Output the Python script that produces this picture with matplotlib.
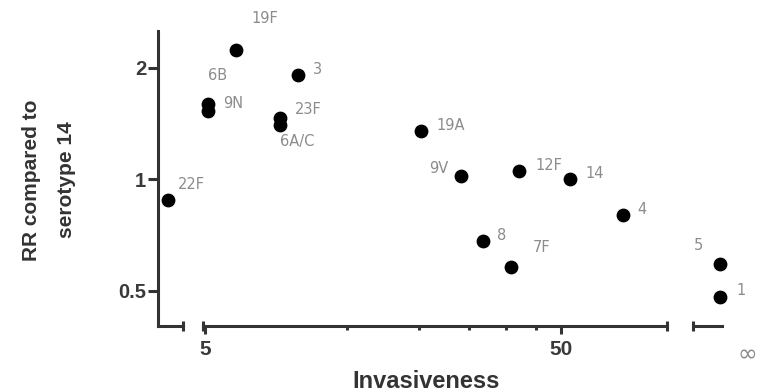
import numpy as np
import matplotlib
matplotlib.use("Agg")
import matplotlib.pyplot as plt
from matplotlib.ticker import FixedLocator, NullFormatter, NullLocator

plt.rcParams['font.family'] = ['Liberation Sans', 'DejaVu Sans']

# Serotypes on the finite log axis
main_labels = ["19F", "6B", "9N", "3", "23F", "6A/C", "19A", "9V", "8", "7F", "12F", "14", "4"]
main_invasiveness = [6.1, 5.1, 5.1, 9.1, 8.1, 8.1, 20.2, 26.2, 30.2, 36.2, 38.1, 53.0, 74.7]
main_rr = [2.23, 1.59, 1.53, 1.91, 1.46, 1.40, 1.35, 1.02, 0.68, 0.58, 1.05, 1.00, 0.80]

# Serotype with zero invasiveness (left segment)
low_labels = ["22F"]
low_invasiveness = [0.0]
low_rr = [0.88]

# Serotypes with infinite invasiveness (right segment)
inf_labels = ["5", "1"]
inf_rr = [0.59, 0.48]

# Label offsets in points (dx, dy) and horizontal alignment
label_offsets = {
    "22F": (7, 11, "left"), "19F": (11, 23, "left"), "6B": (0, 21, "left"),
    "9N": (11, 5, "left"), "3": (11, 4, "left"), "23F": (11, 6, "left"),
    "6A/C": (0, -12, "left"), "19A": (11, 4, "left"), "9V": (-9, 5, "right"),
    "12F": (12, 4, "left"), "14": (11, 4, "left"), "4": (10, 4, "left"),
    "8": (10, 4, "left"), "7F": (16, 14, "left"), "5": (-12, 13, "right"),
    "1": (12, 5, "left"),
}

y_ticks = [0.5, 1, 2]
y_ticklabels = ["0.5", "1", "2"]
x_major = [5, 50]
x_minor = [12.5, 20, 27.5, 35, 42.5]

W, H = 765, 392
fig = plt.figure(figsize=(W / 100, H / 100), dpi=100)

def frac(x0, x1):
    return x0 / W, (x1 - x0) / W

bottom = (H - 326) / H
height = (326 - 31) / H
ylim = (0.401, 2.51)

axis_col = "#333333"
tick_col = "#3a3a3a"
lab_col = "#8c8c8c"
lw = 2.2

l0, w0 = frac(158, 183)
l1, w1 = frac(203, 667)
l2, w2 = frac(693, 722)
ax_low = fig.add_axes([l0, bottom, w0, height])
ax_main = fig.add_axes([l1, bottom, w1, height])
ax_inf = fig.add_axes([l2, bottom, w2, height])

for ax in (ax_low, ax_main, ax_inf):
    ax.set_yscale("log", base=2)
    ax.set_ylim(*ylim)
    ax.patch.set_alpha(0)
    for s in ("top", "right"):
        ax.spines[s].set_visible(False)
    ax.spines["bottom"].set_color(axis_col)
    ax.spines["bottom"].set_linewidth(lw)
    ax.yaxis.set_minor_locator(NullLocator())
    ax.yaxis.set_minor_formatter(NullFormatter())

# y axis lives on the left segment
ax_low.spines["left"].set_color(axis_col)
ax_low.spines["left"].set_linewidth(lw)
ax_low.yaxis.set_major_locator(FixedLocator(y_ticks))
ax_low.set_yticklabels(y_ticklabels)
ax_low.tick_params(axis="y", direction="out", length=7, width=lw, color=axis_col,
                   labelsize=14.5, labelcolor=tick_col, pad=1.5)
for t in ax_low.get_yticklabels():
    t.set_fontweight("bold")
ax_low.set_xlim(-1, 1.5)
ax_low.set_xticks([])

for ax in (ax_main, ax_inf):
    ax.spines["left"].set_visible(False)
    ax.set_yticks([])
    ax.yaxis.set_minor_locator(NullLocator())

ax_main.set_xscale("log")
ax_main.set_xlim(4.935, 99.3)
ax_main.xaxis.set_major_locator(FixedLocator(x_major))
ax_main.xaxis.set_minor_locator(FixedLocator(x_minor))
ax_main.xaxis.set_minor_formatter(NullFormatter())
ax_main.set_xticklabels([str(v) for v in x_major])
ax_main.tick_params(axis="x", which="major", direction="out", length=6, width=lw,
                    color=axis_col, labelsize=15, labelcolor=tick_col, pad=4)
ax_main.tick_params(axis="x", which="minor", direction="out", length=3, width=lw,
                    color=axis_col)
for t in ax_main.get_xticklabels():
    t.set_fontweight("bold")

ax_inf.set_xlim(0, 1)
ax_inf.set_xticks([])
inf_pos = [0.93] * len(inf_rr)

# Break marks at the segment ends
def break_mark(ax, xa):
    ax.plot([xa, xa], [-0.018, 0.018], transform=ax.transAxes, color=axis_col,
            lw=lw, clip_on=False, solid_capstyle="butt")

break_mark(ax_low, 1.0)
break_mark(ax_main, 0.0)
break_mark(ax_main, 1.0)
break_mark(ax_inf, 0.0)

ms = 80
ax_low.scatter(low_invasiveness, low_rr, s=ms, color="black", zorder=3, clip_on=False)
ax_main.scatter(main_invasiveness, main_rr, s=ms, color="black", zorder=3, clip_on=False)
ax_inf.scatter(inf_pos, inf_rr, s=ms, color="black", zorder=3, clip_on=False)

def put_labels(ax, xs, ys, names):
    for x, y, n in zip(xs, ys, names):
        dx, dy, ha = label_offsets[n]
        ax.annotate(n, (x, y), xytext=(dx, dy), textcoords="offset points",
                    ha=ha, va="center", fontsize=10.5, color=lab_col,
                    family="DejaVu Sans", annotation_clip=False)

put_labels(ax_low, low_invasiveness, low_rr, low_labels)
put_labels(ax_main, main_invasiveness, main_rr, main_labels)
put_labels(ax_inf, inf_pos, inf_rr, inf_labels)

fig.text(747 / W, 1 - 354 / H, "\u221e", ha="center", va="center",
         fontsize=17, color=lab_col, family="DejaVu Sans")

fig.text(426 / W, 1 - 382 / H, "Invasiveness", ha="center", va="center",
         fontsize=17, fontweight="bold", color="#333333")
fig.text(32 / W, 1 - 180 / H, "RR compared to", ha="center", va="center",
         rotation=90, fontsize=15, fontweight="bold", color="#333333")
fig.text(67 / W, 1 - 180 / H, "serotype 14", ha="center", va="center",
         rotation=90, fontsize=15, fontweight="bold", color="#333333")

fig.savefig("out.png", dpi=100)
